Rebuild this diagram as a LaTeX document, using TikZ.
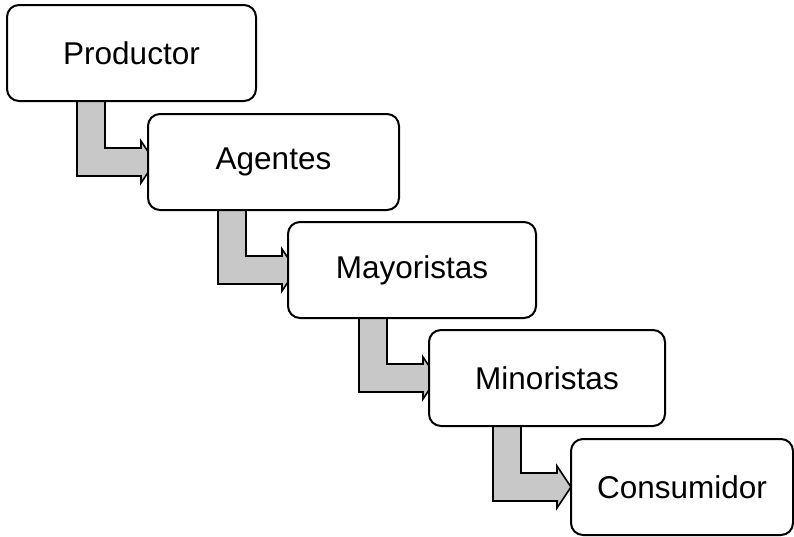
\documentclass[tikz,border=0pt]{standalone}
\usepackage{fontspec}
\setmainfont{Liberation Sans}
\usetikzlibrary{calc}
\pgfdeclarelayer{background}
\pgfsetlayers{background,main}
\definecolor{arrowgray}{RGB}{200,200,200}
\tikzset{
  stage/.style={draw=black, line width=2pt, fill=white, rounded corners=12pt,
    anchor=north west, inner sep=0pt, minimum height=96pt,
    font=\fontsize{31.5}{36}\selectfont},
  bent/.style={draw=black, line width=1.6pt, fill=arrowgray, line join=miter}
}
% bent block arrow: source node, target node, shaft offset from source's west side
\newcommand\bentarrow[3]{%
  \path (#1.south west) ++(#3,-2) coordinate (#1-shaft);
  \draw[bent] let \p1=(#1-shaft), \p2=(#2.west) in
    (\x1,\y1) -- (\x1+28pt,\y1) -- (\x1+28pt,\y2+14pt) -- (\x1+64pt,\y2+14pt)
    -- (\x1+64pt,\y2+21pt) -- (\x1+78pt,\y2) -- (\x1+64pt,\y2-21pt)
    -- (\x1+64pt,\y2-14pt) -- (\x1,\y2-14pt) -- cycle;
}
\begin{document}
\begin{tikzpicture}[x=1pt,y=-1pt]
\useasboundingbox (0,0) rectangle (794,536);
% the five stages of the distribution channel
\node[stage, minimum width=249pt] (prod) at (6,4)     {Productor};
\node[stage, minimum width=251pt] (agen) at (147,113) {Agentes};
\node[stage, minimum width=248pt] (mayo) at (287,221) {Mayoristas};
\node[stage, minimum width=236pt] (mino) at (428,329) {Minoristas};
\node[stage, minimum width=222pt] (cons) at (570,438) {Consumidor};
% arrows go behind the boxes
\begin{pgfonlayer}{background}
\bentarrow{prod}{agen}{71pt}
\bentarrow{agen}{mayo}{71pt}
\bentarrow{mayo}{mino}{72pt}
\bentarrow{mino}{cons}{65pt}
\end{pgfonlayer}
\end{tikzpicture}
\end{document}
